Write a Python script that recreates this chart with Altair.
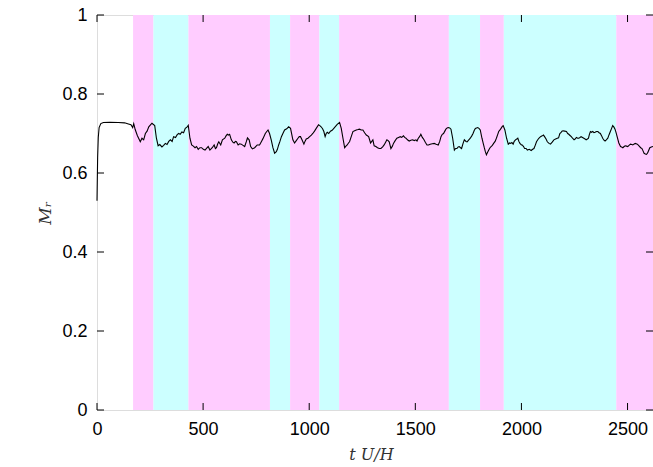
import altair as alt
import pandas as pd

# ---- data ----
T = [0, 3, 6, 10, 18, 30, 60, 100, 130, 148, 160, 168, 173, 180, 190, 204, 212, 220, 228, 236,
     244, 252, 259, 272, 280, 288, 296, 306, 314, 322, 330, 338, 346, 354, 361, 370, 378, 385, 392, 400,
     408, 416, 424, 430, 438, 446, 454, 462, 469, 477, 485, 493, 501, 509, 517, 524, 532, 543, 552, 558,
     563, 569, 574, 583, 591, 602, 608, 614, 620, 625, 633, 640, 646, 652, 657, 665, 672, 680, 688, 696,
     704, 709, 717, 724, 732, 743, 755, 766, 775, 782, 793, 800, 806, 813, 821, 829, 837, 845, 850, 856,
     862, 869, 876, 884, 894, 903, 912, 923, 931, 939, 947, 953, 959, 966, 975, 980, 986, 994, 1002, 1010,
     1017, 1025, 1033, 1044, 1050, 1056, 1063, 1069, 1075, 1080, 1085, 1092, 1100, 1108, 1116, 1124, 1132, 1143, 1151, 1159,
     1167, 1173, 1179, 1185, 1190, 1198, 1206, 1214, 1222, 1230, 1237, 1245, 1253, 1261, 1269, 1280, 1289, 1300, 1306, 1314,
     1322, 1330, 1338, 1346, 1353, 1360, 1366, 1372, 1377, 1385, 1392, 1397, 1405, 1413, 1421, 1429, 1436, 1444, 1450, 1456,
     1463, 1471, 1479, 1487, 1495, 1503, 1508, 1514, 1520, 1526, 1533, 1539, 1547, 1555, 1562, 1570, 1580, 1589, 1598, 1608,
     1615, 1621, 1627, 1633, 1639, 1644, 1650, 1655, 1662, 1668, 1676, 1684, 1690, 1696, 1702, 1707, 1713, 1718, 1725, 1731,
     1739, 1744, 1752, 1759, 1766, 1772, 1778, 1783, 1794, 1800, 1806, 1814, 1820, 1825, 1830, 1835, 1840, 1846, 1852, 1857,
     1863, 1869, 1876, 1882, 1888, 1893, 1899, 1904, 1910, 1914, 1922, 1930, 1938, 1944, 1949, 1955, 1961, 1966, 1972, 1978,
     1983, 1988, 1993, 2000, 2004, 2010, 2015, 2022, 2028, 2037, 2046, 2053, 2059, 2065, 2071, 2077, 2082, 2090, 2098, 2104,
     2109, 2116, 2122, 2130, 2137, 2145, 2153, 2161, 2169, 2175, 2181, 2186, 2191, 2196, 2204, 2212, 2218, 2223, 2229, 2235,
     2241, 2248, 2253, 2259, 2265, 2270, 2276, 2281, 2288, 2294, 2300, 2305, 2311, 2316, 2320, 2325, 2330, 2336, 2342, 2347,
     2354, 2360, 2366, 2372, 2378, 2383, 2389, 2394, 2400, 2407, 2413, 2419, 2425, 2430, 2436, 2441, 2446, 2451, 2459, 2467,
     2472, 2478, 2484, 2489, 2495, 2501, 2507, 2514, 2520, 2525, 2530, 2536, 2541, 2546, 2552, 2557, 2562, 2568, 2573, 2578,
     2584, 2589, 2594, 2597, 2605, 2612, 2620]
M = [0.53, 0.64, 0.69, 0.715, 0.725, 0.728, 0.7285, 0.728, 0.727, 0.724, 0.722, 0.715, 0.725, 0.71, 0.695, 0.679, 0.688, 0.684, 0.700, 0.706,
     0.717, 0.722, 0.726, 0.720, 0.688, 0.669, 0.672, 0.666, 0.670, 0.675, 0.672, 0.680, 0.684, 0.680, 0.692, 0.690, 0.697, 0.700, 0.698, 0.704,
     0.702, 0.713, 0.716, 0.721, 0.688, 0.671, 0.668, 0.664, 0.667, 0.660, 0.664, 0.664, 0.660, 0.658, 0.663, 0.667, 0.658, 0.664, 0.671, 0.662,
     0.664, 0.674, 0.679, 0.671, 0.684, 0.688, 0.694, 0.698, 0.696, 0.698, 0.684, 0.678, 0.676, 0.680, 0.679, 0.671, 0.674, 0.673, 0.670, 0.667,
     0.680, 0.689, 0.684, 0.667, 0.661, 0.664, 0.671, 0.671, 0.680, 0.687, 0.700, 0.705, 0.709, 0.700, 0.684, 0.664, 0.650, 0.654, 0.660, 0.671,
     0.680, 0.692, 0.700, 0.709, 0.712, 0.717, 0.713, 0.684, 0.676, 0.682, 0.688, 0.692, 0.692, 0.684, 0.673, 0.680, 0.686, 0.688, 0.692, 0.696,
     0.700, 0.706, 0.713, 0.722, 0.720, 0.717, 0.712, 0.705, 0.692, 0.700, 0.703, 0.700, 0.706, 0.708, 0.713, 0.718, 0.723, 0.728, 0.713, 0.688,
     0.664, 0.668, 0.671, 0.676, 0.679, 0.692, 0.705, 0.707, 0.709, 0.710, 0.711, 0.709, 0.709, 0.702, 0.696, 0.692, 0.676, 0.684, 0.669, 0.667,
     0.664, 0.662, 0.662, 0.666, 0.671, 0.678, 0.684, 0.682, 0.679, 0.662, 0.668, 0.675, 0.682, 0.688, 0.690, 0.692, 0.690, 0.694, 0.690, 0.688,
     0.684, 0.681, 0.683, 0.684, 0.682, 0.684, 0.681, 0.688, 0.692, 0.698, 0.690, 0.686, 0.678, 0.671, 0.671, 0.673, 0.674, 0.675, 0.673, 0.671,
     0.680, 0.692, 0.698, 0.700, 0.706, 0.711, 0.714, 0.715, 0.714, 0.711, 0.688, 0.658, 0.662, 0.662, 0.666, 0.667, 0.664, 0.662, 0.675, 0.684,
     0.680, 0.679, 0.684, 0.688, 0.694, 0.700, 0.708, 0.713, 0.715, 0.713, 0.709, 0.688, 0.675, 0.664, 0.654, 0.646, 0.652, 0.658, 0.664, 0.667,
     0.670, 0.675, 0.680, 0.688, 0.697, 0.705, 0.709, 0.713, 0.718, 0.720, 0.709, 0.688, 0.673, 0.676, 0.675, 0.677, 0.673, 0.680, 0.684, 0.686,
     0.688, 0.680, 0.675, 0.671, 0.671, 0.667, 0.662, 0.662, 0.658, 0.660, 0.657, 0.660, 0.662, 0.670, 0.679, 0.684, 0.688, 0.692, 0.694, 0.696,
     0.692, 0.686, 0.679, 0.675, 0.673, 0.678, 0.684, 0.686, 0.688, 0.689, 0.700, 0.702, 0.706, 0.707, 0.706, 0.705, 0.700, 0.698, 0.695, 0.692,
     0.688, 0.684, 0.686, 0.690, 0.688, 0.688, 0.690, 0.692, 0.690, 0.688, 0.686, 0.684, 0.686, 0.688, 0.697, 0.705, 0.703, 0.705, 0.702, 0.703,
     0.705, 0.705, 0.702, 0.700, 0.694, 0.688, 0.683, 0.681, 0.684, 0.688, 0.697, 0.705, 0.713, 0.720, 0.716, 0.711, 0.702, 0.692, 0.676, 0.667,
     0.666, 0.664, 0.667, 0.669, 0.668, 0.667, 0.670, 0.673, 0.672, 0.671, 0.673, 0.675, 0.674, 0.673, 0.670, 0.667, 0.664, 0.662, 0.656, 0.650,
     0.648, 0.647, 0.650, 0.654, 0.664, 0.666, 0.667]

BAND_START = [170, 266, 431, 815, 910, 1048, 1141, 1658, 1805, 1917, 2447]
BAND_END = [266, 431, 815, 910, 1048, 1141, 1658, 1805, 1917, 2447, 2620]
BAND_KIND = ["m", "c", "m", "c", "m", "c", "m", "c", "m", "c", "m"]

XTICKS = [0, 500, 1000, 1500, 2000, 2500]
YTICKS = [0, 0.2, 0.4, 0.6, 0.8, 1]

W, H = 556, 395
XMAX = 2620

line_df = pd.DataFrame({"t": T, "M": M})
band_df = pd.DataFrame({"t": BAND_START, "t2": BAND_END, "kind": BAND_KIND})
xt_df = pd.DataFrame({"t": XTICKS})
yt_df = pd.DataFrame({"M": YTICKS})

xscale = alt.Scale(domain=[0, XMAX], nice=False, zero=False)
yscale = alt.Scale(domain=[0, 1], nice=False)

TITLE_FONT = "DejaVu Serif"

xaxis = alt.Axis(values=XTICKS, format="d", title="t U/H", grid=False, ticks=False, domain=False,
                 labelFont="Liberation Sans", labelFontSize=18, labelColor="black",
                 labelPadding=10, labelFlush=False,
                 titleFont=TITLE_FONT, titleFontStyle="italic",
                 titleFontWeight="normal", titleFontSize=16, titleColor="#333",
                 titleX=W / 2 - 4, titleY=44, titleBaseline="middle", titleAlign="center")
yaxis = alt.Axis(values=YTICKS, format="~g", title="Mᵣ", grid=False, ticks=False, domain=False,
                 labelFont="Liberation Sans", labelFontSize=18, labelColor="black",
                 labelPadding=10, labelFlush=False,
                 titleFont=TITLE_FONT, titleFontStyle="italic",
                 titleFontWeight="normal", titleFontSize=17, titleColor="#333",
                 titleX=-52, titleY=H / 2, titleAngle=270, titleBaseline="middle",
                 titleAlign="center")

bands = alt.Chart(band_df).mark_rect(opacity=1).encode(
    x=alt.X("t:Q", scale=xscale, axis=xaxis),
    x2="t2:Q",
    y=alt.value(0),
    y2=alt.value(H),
    color=alt.Color("kind:N", scale=alt.Scale(domain=["m", "c"], range=["#ffccff", "#ccffff"]), legend=None),
)

line = alt.Chart(line_df).mark_line(color="black", strokeWidth=1.1, interpolate="linear").encode(
    x=alt.X("t:Q", scale=xscale, axis=xaxis),
    y=alt.Y("M:Q", scale=yscale, axis=yaxis),
)

tick_len = 7
xt_bottom = alt.Chart(xt_df).mark_rule(color="black", strokeWidth=1).encode(
    x=alt.X("t:Q", scale=xscale, axis=xaxis), y=alt.value(H), y2=alt.value(H - tick_len))
xt_top = alt.Chart(xt_df).mark_rule(color="black", strokeWidth=1).encode(
    x=alt.X("t:Q", scale=xscale, axis=xaxis), y=alt.value(0), y2=alt.value(tick_len))
yt_left = alt.Chart(yt_df).mark_rule(color="black", strokeWidth=1).encode(
    y=alt.Y("M:Q", scale=yscale, axis=yaxis), x=alt.value(0), x2=alt.value(tick_len))
yt_right = alt.Chart(yt_df).mark_rule(color="black", strokeWidth=1).encode(
    y=alt.Y("M:Q", scale=yscale, axis=yaxis), x=alt.value(W), x2=alt.value(W - tick_len))

chart = alt.layer(bands, line, xt_bottom, xt_top, yt_left, yt_right).properties(
    width=W, height=H,
    autosize=alt.AutoSizeParams(type="none"),
    padding={"left": 97, "top": 15, "right": 0, "bottom": 57},
).configure_view(stroke="black", strokeWidth=1.3).configure(background="white")

chart.save("out.html", embed_options={"renderer": "svg", "actions": False})
